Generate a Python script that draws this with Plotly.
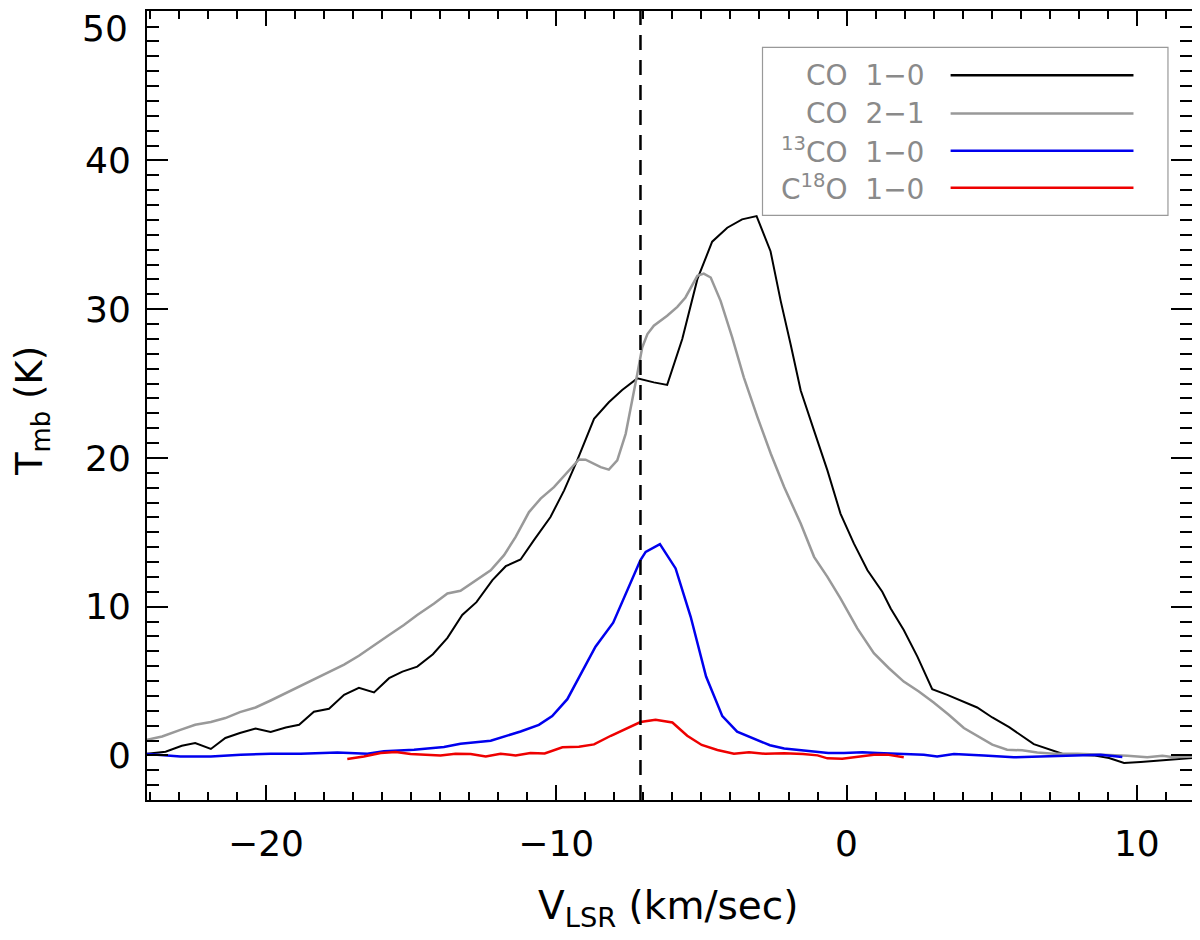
import plotly.graph_objects as go

#---DATA---
# CO 1-0
co10_v = [-24.1, -23.46, -22.9, -22.44, -21.9, -21.4, -20.9, -20.36, -19.84, -19.32,
          -18.86, -18.35, -17.83, -17.31, -16.8, -16.28, -15.76, -15.3, -14.79, -14.25,
          -13.75, -13.24, -12.75, -12.2, -11.74, -11.23, -10.77, -10.2, -9.73, -9.28,
          -8.7, -8.19, -7.73, -7.21, -6.64, -6.18, -5.66, -5.14, -4.63, -4.11,
          -3.6, -3.1, -2.62, -2.27, -1.93, -1.58, -1.12, -0.66, -0.21, 0.25,
          0.72, 1.23, 1.52, 1.97, 2.44, 2.95, 3.47, 3.98, 4.5, 5.02,
          5.6, 6.45, 6.91, 7.43, 7.95, 8.5, 9.04, 9.56, 10.13, 11.28, 11.9]
co10_t = [0.11, 0.25, 0.65, 0.83, 0.43, 1.17, 1.5, 1.81, 1.57, 1.88,
          2.06, 2.93, 3.13, 4.07, 4.54, 4.23, 5.19, 5.63, 5.97, 6.8,
          7.9, 9.44, 10.3, 11.78, 12.72, 13.17, 14.47, 16.03, 17.82, 19.83,
          22.63, 23.74, 24.57, 25.35, 25.08, 24.91, 27.99, 32.02, 34.54, 35.48,
          36.04, 36.26, 33.9, 30.56, 27.66, 24.53, 21.84, 19.16, 16.26, 14.25,
          12.45, 11.0, 9.88, 8.43, 6.64, 4.45, 4.07, 3.67, 3.22, 2.55,
          1.9, 0.76, 0.45, 0.11, 0.05, 0.0, -0.18, -0.51, -0.44, -0.29, -0.18]

# CO 2-1
co21_v = [-24.1, -23.58, -22.95, -22.44, -21.9, -21.4, -20.9, -20.36, -19.84, -19.32,
          -18.81, -18.35, -17.83, -17.31, -16.8, -16.28, -15.76, -15.25, -14.79, -14.22,
          -13.75, -13.3, -12.84, -12.26, -11.8, -11.4, -10.94, -10.54, -10.08, -9.62,
          -9.22, -8.99, -8.47, -8.19, -7.9, -7.61, -7.38, -7.21, -7.04, -6.86,
          -6.64, -6.18, -5.83, -5.55, -5.14, -4.92, -4.68, -4.34, -3.94, -3.54,
          -3.07, -2.61, -2.15, -1.58, -1.12, -0.66, -0.21, 0.37, 0.94, 1.46,
          1.97, 2.49, 3.0, 3.52, 4.04, 4.56, 5.02, 5.53, 6.05, 6.57,
          7.14, 7.95, 8.75, 9.67, 10.36, 10.88, 11.28, 11.9]
co21_t = [1.05, 1.27, 1.72, 2.06, 2.24, 2.51, 2.91, 3.22, 3.69, 4.18,
          4.67, 5.1, 5.6, 6.1, 6.7, 7.42, 8.1, 8.77, 9.44, 10.2,
          10.89, 11.07, 11.67, 12.45, 13.46, 14.69, 16.36, 17.26, 18.04, 19.05,
          19.9, 19.88, 19.38, 19.21, 19.83, 21.62, 24.08, 25.65, 27.43, 28.33,
          28.89, 29.56, 30.16, 30.79, 32.24, 32.39, 32.13, 30.56, 28.1, 25.42,
          22.74, 20.28, 18.04, 15.59, 13.35, 12.0, 10.56, 8.54, 6.87, 5.86,
          4.96, 4.29, 3.55, 2.73, 1.84, 1.27, 0.72, 0.38, 0.34, 0.2,
          0.11, 0.11, 0.05, -0.02, -0.13, -0.02, -0.13, -0.07]

# 13CO 1-0
co13_v = [-24.1, -22.95, -21.9, -20.87, -19.84, -18.81, -17.54, -16.97, -16.51, -15.94,
          -14.9, -13.87, -13.3, -12.26, -11.23, -10.6, -10.14, -9.62, -9.13, -8.65,
          -8.04, -7.55, -7.1, -6.92, -6.43, -5.89, -5.37, -4.84, -4.28, -3.77,
          -3.19, -2.64, -2.15, -1.52, -0.63, -0.09, 0.55, 1.06, 2.09, 2.66,
          3.12, 3.7, 4.73, 5.76, 6.68, 7.6, 8.75, 9.5]
co13_t = [0.09, -0.07, -0.07, 0.05, 0.11, 0.11, 0.2, 0.16, 0.11, 0.27,
          0.38, 0.56, 0.78, 0.99, 1.61, 2.05, 2.64, 3.78, 5.58, 7.31,
          8.92, 11.11, 13.13, 13.68, 14.2, 12.57, 9.32, 5.3, 2.64, 1.59,
          1.1, 0.68, 0.46, 0.34, 0.16, 0.16, 0.21, 0.16, 0.09, 0.05,
          -0.07, 0.09, 0.0, -0.13, -0.07, -0.02, 0.05, -0.11]

# C18O 1-0
c18o_v = [-17.2, -16.63, -16.05, -15.53, -15.02, -14.5, -13.99, -13.47, -12.95, -12.43,
          -11.92, -11.4, -10.89, -10.4, -9.79, -9.22, -8.7, -8.12, -7.61, -7.1,
          -6.58, -6.0, -5.49, -4.99, -4.45, -3.88, -3.36, -2.8, -2.15, -1.5,
          -1.0, -0.66, -0.15, 0.42, 0.94, 1.4, 1.97]
c18o_t = [-0.24, -0.07, 0.16, 0.23, 0.09, 0.03, 0.0, 0.11, 0.09, -0.07,
          0.11, 0.0, 0.16, 0.13, 0.55, 0.58, 0.74, 1.32, 1.77, 2.24,
          2.39, 2.21, 1.32, 0.7, 0.36, 0.11, 0.21, 0.11, 0.14, 0.1,
          0.0, -0.2, -0.22, -0.09, 0.05, 0.05, -0.13]

# systemic velocity marker
v_sys = -7.1

# y tick labels (the top one is drawn separately, pushed down inside the page like the original)
y_ticks = [0, 10, 20, 30, 40, 50]
y_ticktext = ['0', '10', '20', '30', '40', '']

line_names = ["CO  1\u22120", "CO  2\u22121", "<sup>13</sup>CO  1\u22120", "C<sup>18</sup>O  1\u22120"]
line_colors = ["#000000", "#999999", "#0000EE", "#EE0000"]

FONT = "DejaVu Sans"

#---PLOT---
fig = go.Figure()
series = [(co10_v, co10_t), (co21_v, co21_t), (co13_v, co13_t), (c18o_v, c18o_t)]
widths = [2, 2.5, 2.5, 2.5]
for (v, t), name, col, w in zip(series, line_names, line_colors, widths):
    fig.add_trace(go.Scatter(x=v, y=t, mode='lines', name=name,
                             line=dict(color=col, width=w), showlegend=False))

# dashed vertical line
fig.add_vline(x=v_sys, line=dict(color='black', width=2.5, dash='15px,10px'))

#---LEGEND (text left, sample line right, like the original)---
fig.add_shape(type='rect', xref='paper', yref='paper', x0=0.589, x1=0.977, y0=0.741, y1=0.954,
              line=dict(color='#999999', width=1.2), fillcolor='white', layer='below')
row_y = [0.9185, 0.870, 0.823, 0.776]
for name, col, yy in zip(line_names, line_colors, row_y):
    fig.add_shape(type='line', xref='paper', yref='paper', x0=0.769, x1=0.944, y0=yy, y1=yy,
                  line=dict(color=col, width=2.5))
    fig.add_annotation(xref='paper', yref='paper', x=0.745, y=yy, text=name, showarrow=False,
                       xanchor='right', yanchor='middle',
                       font=dict(family=FONT, size=28, color='#8a8a8a'))

#---AXIS TITLES---
fig.add_annotation(xref='paper', yref='paper', x=0.4995, y=-0.103, text='V<sub>LSR</sub> (km/sec)',
                   showarrow=False, xanchor='center', yanchor='top',
                   font=dict(family=FONT, size=39, color='black'))
fig.add_annotation(xref='paper', yref='paper', x=-0.11, y=0.493, text='T<sub>mb</sub> (K)',
                   showarrow=False, xanchor='center', yanchor='middle', textangle=-90,
                   font=dict(family=FONT, size=37, color='black'))
# top y label
fig.add_annotation(xref='paper', yref='paper', x=-0.016, y=0.9775, text=str(y_ticks[-1]),
                   showarrow=False, xanchor='right', yanchor='middle',
                   font=dict(family=FONT, size=36, color='black'))

#---STYLE---
# page body has an 8px margin, so the margins are shifted to land the frame where the original has it
fig.update_layout(
    width=1200, height=940,
    margin=dict(l=139, r=16, t=3, b=148),
    plot_bgcolor='white', paper_bgcolor='white',
    font=dict(family=FONT, size=36, color='black'),
)

fig.update_xaxes(range=[-24.1, 11.9], dtick=10, tick0=0, automargin=False,
                 ticks='inside', ticklen=15, tickwidth=2, tickcolor='black',
                 minor=dict(dtick=1, ticks='inside', ticklen=8, tickwidth=2, tickcolor='black'),
                 showline=True, linewidth=2, linecolor='black', mirror='ticks',
                 showgrid=False, zeroline=False, ticklabelstandoff=11,
                 ticklabeloverflow='allow')
fig.update_yaxes(range=[-3, 50.05], tickvals=y_ticks, ticktext=y_ticktext, automargin=False,
                 ticks='inside', ticklen=21, tickwidth=2, tickcolor='black',
                 minor=dict(dtick=1, ticks='inside', ticklen=12, tickwidth=2, tickcolor='black'),
                 showline=True, linewidth=2, linecolor='black', mirror='ticks',
                 showgrid=False, zeroline=False, ticklabelstandoff=7,
                 ticklabeloverflow='allow')

fig.write_html("out.html")
